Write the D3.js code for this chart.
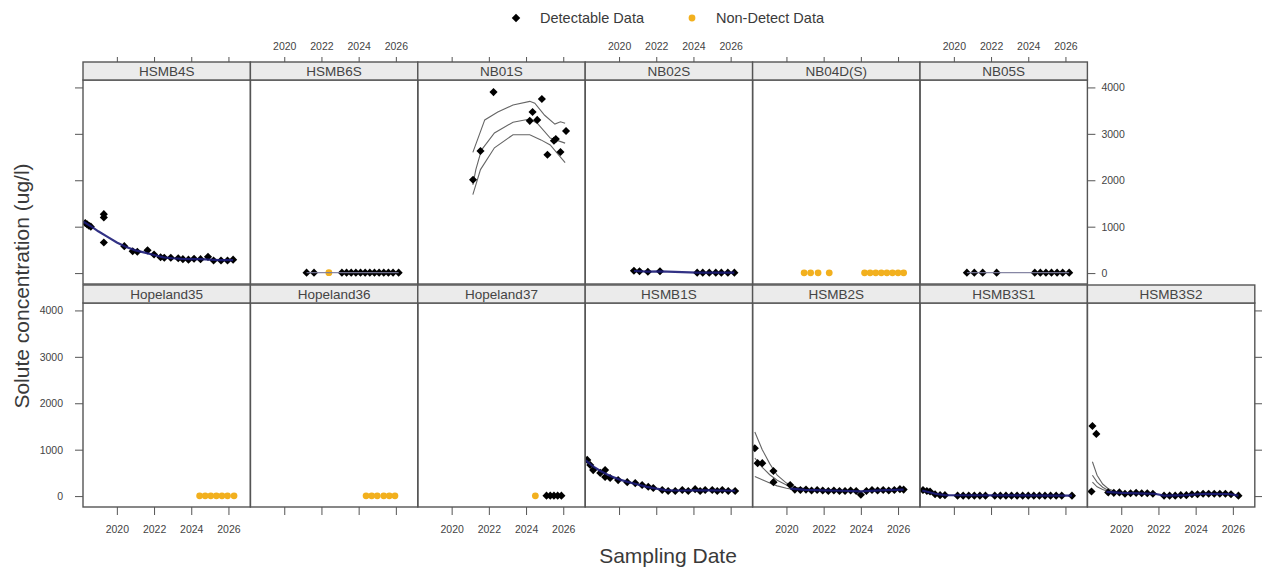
<!DOCTYPE html>
<html><head><meta charset="utf-8">
<script src="https://cdn.jsdelivr.net/npm/d3@7/dist/d3.min.js"></script>
<style>body{margin:0;background:#fff} svg{display:block} text{font-family:"Liberation Sans",Arial,sans-serif}</style>
</head><body><svg id="c" width="1262" height="569"></svg>
<script>
// ---------- tick labels & categories ----------
const yearTicks = [2020, 2022, 2024, 2026];
const valueTicks = [0, 1000, 2000, 3000, 4000];
const topRow = ["HSMB4S", "HSMB6S", "NB01S", "NB02S", "NB04D(S)", "NB05S"];
const bottomRow = ["Hopeland35", "Hopeland36", "Hopeland37", "HSMB1S", "HSMB2S", "HSMB3S1", "HSMB3S2"];
const legendLabels = ["Detectable Data", "Non-Detect Data"];

// ---------- series values [decimal year, ug/l] ----------
const hsmb4sDetect = [[2018.3,1080],[2018.4,1050],[2018.5,1020],[2018.6,1000],[2019.3,1270],[2019.3,1200],[2019.3,660],[2020.4,580],[2020.85,470],[2021.1,460],[2021.65,490],[2022.0,400],[2022.35,340],[2022.55,330],[2022.9,330],[2023.3,320],[2023.55,300],[2023.85,290],[2024.15,310],[2024.5,300],[2024.9,350],[2025.2,270],[2025.6,270],[2025.95,270],[2026.25,290]];
const hsmb4sTrend = [[2018.2,1110],[2018.6,1010],[2019.0,900],[2019.5,780],[2020.0,660],[2020.5,560],[2021.0,490],[2021.5,440],[2022.0,390],[2022.5,340],[2023.0,320],[2023.5,305],[2024.0,300],[2024.5,300],[2025.0,290],[2025.5,280],[2026.25,280]];

const hsmb6sDetect = [[2021.2,10],[2021.6,10],[2023.1,10],[2023.35,10],[2023.6,10],[2023.85,10],[2024.1,10],[2024.35,10],[2024.6,10],[2024.85,10],[2025.1,10],[2025.35,10],[2025.6,10],[2025.85,10],[2026.15,10]];
const hsmb6sNonDetect = [[2022.4,10]];
const hsmb6sTrend = [[2021.2,10],[2026.15,10]];

const nb01sDetect = [[2021.15,2010],[2021.55,2630],[2022.25,3900],[2024.2,3280],[2024.35,3470],[2024.6,3300],[2024.85,3750],[2025.15,2550],[2025.5,2850],[2025.6,2890],[2025.85,2610],[2026.15,3060]];
const nb01sUpper = [[2021.14,2600],[2021.78,3300],[2022.48,3470],[2023.3,3620],[2024.2,3700],[2024.47,3660],[2025.0,3400],[2025.55,3210],[2025.85,3260],[2026.1,3230]];
const nb01sMiddle = [[2021.14,1900],[2021.3,2230],[2021.6,2650],[2022.3,3020],[2023.3,3250],[2024.2,3320],[2024.6,3230],[2025.3,2910],[2026.1,2800]];
const nb01sLower = [[2021.14,1690],[2021.55,2230],[2022.3,2700],[2023.3,2980],[2024.2,2980],[2024.8,2870],[2025.3,2760],[2026.1,2380]];

const nb02sDetect = [[2020.8,50],[2021.1,40],[2021.55,30],[2022.2,40],[2024.2,10],[2024.5,10],[2024.85,10],[2025.2,10],[2025.5,10],[2025.85,10],[2026.2,10]];
const nb02sTrend = [[2020.8,45],[2021.55,30],[2022.2,35],[2024.2,10],[2026.2,10]];

const nb04dsNonDetect = [[2020.95,5],[2021.3,5],[2021.7,5],[2022.3,5],[2024.2,5],[2024.5,5],[2024.8,5],[2025.1,5],[2025.4,5],[2025.7,5],[2026.0,5],[2026.3,5]];

const nb05sDetect = [[2020.7,10],[2021.1,10],[2021.55,10],[2022.3,10],[2024.35,10],[2024.65,10],[2024.95,10],[2025.25,10],[2025.55,10],[2025.85,10],[2026.2,10]];
const nb05sTrend = [[2020.7,10],[2026.2,10]];

const hopeland35NonDetect = [[2024.45,5],[2024.75,5],[2025.05,5],[2025.35,5],[2025.65,5],[2025.95,5],[2026.3,5]];
const hopeland36NonDetect = [[2024.4,5],[2024.7,5],[2025.0,5],[2025.35,5],[2025.65,5],[2025.95,5]];
const hopeland37NonDetect = [[2024.5,5]];
const hopeland37Detect = [[2025.1,10],[2025.3,10],[2025.5,10],[2025.7,10],[2025.9,10]];

const hsmb1sDetect = [[2018.29,780],[2018.45,670],[2018.61,560],[2018.99,500],[2019.25,560],[2019.25,410],[2019.52,390],[2019.95,345],[2020.44,300],[2020.87,280],[2021.24,240],[2021.57,200],[2021.84,175],[2022.32,130],[2022.64,110],[2023.02,110],[2023.4,130],[2023.72,110],[2024.09,150],[2024.36,110],[2024.63,130],[2025.01,130],[2025.28,110],[2025.55,130],[2025.87,110],[2026.24,110]];
const hsmb1sTrend = [[2018.2,770],[2018.6,640],[2019.0,540],[2019.5,440],[2020.0,360],[2020.5,300],[2021.0,250],[2021.5,200],[2022.0,160],[2022.5,130],[2023.0,120],[2023.5,120],[2024.0,125],[2024.5,125],[2025.0,125],[2025.5,120],[2026.25,115]];

const hsmb2sDetect = [[2018.3,1030],[2018.45,710],[2018.7,710],[2019.3,540],[2019.3,300],[2020.2,240],[2020.45,140],[2020.75,130],[2021.05,140],[2021.35,120],[2021.65,130],[2021.95,120],[2022.25,110],[2022.55,120],[2022.85,110],[2023.15,110],[2023.45,120],[2023.75,110],[2024.0,30],[2024.3,110],[2024.6,130],[2024.9,120],[2025.2,130],[2025.5,120],[2025.8,130],[2026.1,150],[2026.3,140]];
const hsmb2sTrend = [[2020.2,160],[2021.0,135],[2022.0,125],[2023.0,115],[2024.0,100],[2025.0,125],[2026.3,140]];
const hsmb2sUpper = [[2018.3,1380],[2018.7,1000],[2019.1,700],[2019.5,450],[2020.0,280],[2020.5,190],[2021.0,160]];
const hsmb2sMiddle = [[2018.3,820],[2018.7,620],[2019.1,460],[2019.5,340],[2020.0,240],[2020.5,170],[2021.0,145]];
const hsmb2sLower = [[2018.3,420],[2018.7,350],[2019.1,280],[2019.5,220],[2020.0,170],[2020.5,130],[2021.0,125]];

const hsmb3s1Detect = [[2018.34,130],[2018.55,110],[2018.72,100],[2018.99,40],[2019.26,20],[2019.52,20],[2020.2,10],[2020.5,10],[2020.8,10],[2021.1,10],[2021.4,10],[2021.7,10],[2022.2,10],[2022.5,10],[2022.8,10],[2023.1,10],[2023.4,10],[2023.7,10],[2024.0,10],[2024.3,10],[2024.6,10],[2024.9,10],[2025.2,10],[2025.5,10],[2025.8,10],[2026.35,10]];
const hsmb3s1Trend = [[2018.3,120],[2019.0,50],[2019.5,20],[2026.35,10]];

const hsmb3s2Detect = [[2018.4,100],[2018.45,1510],[2018.66,1340],[2019.3,80],[2019.6,70],[2019.9,80],[2020.2,50],[2020.5,60],[2020.8,70],[2021.1,60],[2021.4,60],[2021.7,50],[2022.3,10],[2022.6,10],[2022.9,10],[2023.2,20],[2023.5,20],[2023.8,40],[2024.1,40],[2024.4,50],[2024.7,50],[2025.0,50],[2025.3,50],[2025.6,50],[2025.9,40],[2026.3,10]];
const hsmb3s2Trend = [[2019.2,90],[2020.0,70],[2021.0,60],[2021.8,50],[2022.3,10],[2023.5,20],[2024.5,50],[2025.8,45],[2026.3,10]];
const hsmb3s2Upper = [[2018.45,740],[2018.7,450],[2019.0,260],[2019.3,160],[2019.6,110]];
const hsmb3s2Middle = [[2018.45,450],[2018.7,300],[2019.0,190],[2019.3,120],[2019.6,90]];
const hsmb3s2Lower = [[2018.45,300],[2018.7,200],[2019.0,140],[2019.3,100],[2019.6,80]];

// ---------- assemble ----------
const stations = {
  "HSMB4S":   {det: hsmb4sDetect, nd: [], trend: hsmb4sTrend, bands: []},
  "HSMB6S":   {det: hsmb6sDetect, nd: hsmb6sNonDetect, trend: hsmb6sTrend, bands: [], thin: true},
  "NB01S":    {det: nb01sDetect, nd: [], trend: null, bands: [nb01sUpper, nb01sMiddle, nb01sLower]},
  "NB02S":    {det: nb02sDetect, nd: [], trend: nb02sTrend, bands: []},
  "NB04D(S)": {det: [], nd: nb04dsNonDetect, trend: null, bands: []},
  "NB05S":    {det: nb05sDetect, nd: [], trend: nb05sTrend, bands: [], thin: true},
  "Hopeland35": {det: [], nd: hopeland35NonDetect, trend: null, bands: []},
  "Hopeland36": {det: [], nd: hopeland36NonDetect, trend: null, bands: []},
  "Hopeland37": {det: hopeland37Detect, nd: hopeland37NonDetect, trend: null, bands: []},
  "HSMB1S":   {det: hsmb1sDetect, nd: [], trend: hsmb1sTrend, bands: []},
  "HSMB2S":   {det: hsmb2sDetect, nd: [], trend: hsmb2sTrend, bands: [hsmb2sUpper, hsmb2sMiddle, hsmb2sLower]},
  "HSMB3S1":  {det: hsmb3s1Detect, nd: [], trend: hsmb3s1Trend, bands: []},
  "HSMB3S2":  {det: hsmb3s2Detect, nd: [], trend: hsmb3s2Trend, bands: [hsmb3s2Upper, hsmb3s2Middle, hsmb3s2Lower]}
};

// ---------- layout ----------
const svg = d3.select("#c");
const left = 83, pw = 167.4, ph = 204, sh = 18;
const rows = [{strip: 62, top: 80, names: topRow}, {strip: 285, top: 303, names: bottomRow}];
const frame = "#555", txt = "#3a3a3a", navy = "#1c1c78", orange = "#f2b01e";

const x = d3.scaleLinear().domain([2018.18, 2027.18]).range([0, pw]);
const y = d3.scaleLinear().domain([-235, 4160]).range([ph, 0]);
const line = d3.line().x(d => x(d[0])).y(d => y(d[1]));
const diamond = d3.symbol().type(d3.symbolSquare).size(33);

function styleAxis(g) {
  g.select(".domain").remove();
  g.selectAll(".tick line").attr("stroke", frame).attr("stroke-width", 1);
  g.selectAll(".tick text").attr("fill", "#444").attr("font-size", 10.5).attr("font-family", '"Liberation Sans",Arial,sans-serif');
}

rows.forEach((row, ri) => {
  row.names.forEach((name, ci) => {
    const px = left + ci * pw;
    const g = svg.append("g").attr("transform", `translate(${px},${row.top})`);
    const s = stations[name];
    const clipId = "clip" + ri + "_" + ci;
    g.append("clipPath").attr("id", clipId).append("rect").attr("width", pw).attr("height", ph);
    const pg = g.append("g").attr("clip-path", `url(#${clipId})`);
    // bands
    s.bands.forEach(b => pg.append("path").datum(b).attr("d", line).attr("fill", "none").attr("stroke", "#666").attr("stroke-width", 1.1));
    // points
    pg.selectAll(".nd").data(s.nd).join("circle").attr("cx", d => x(d[0])).attr("cy", d => y(d[1])).attr("r", 3.4).attr("fill", orange);
    pg.selectAll(".det").data(s.det).join("path").attr("d", diamond)
      .attr("transform", d => `translate(${x(d[0])},${y(d[1])}) rotate(45)`).attr("fill", "#000");
    // trend
    if (s.trend) pg.append("path").datum(s.trend).attr("d", line).attr("fill", "none")
      .attr("stroke", s.thin ? "#7a7a9a" : navy).attr("stroke-width", s.thin ? 1.2 : 2.2).attr("stroke-opacity", 0.9);
    // panel frame
    g.append("rect").attr("width", pw).attr("height", ph).attr("fill", "none").attr("stroke", frame).attr("stroke-width", 1.4);
    // strip
    const st = svg.append("g").attr("transform", `translate(${px},${row.strip})`);
    st.append("rect").attr("width", pw).attr("height", sh).attr("fill", "#ebebeb").attr("stroke", frame).attr("stroke-width", 1.4);
    st.append("text").attr("x", pw / 2).attr("y", 14).attr("text-anchor", "middle").attr("font-size", 13.5).attr("fill", "#444").text(name);

    // axes
    if (ri === 0) {
      const ax = d3.axisTop(x).tickValues(yearTicks).tickSize(5).tickPadding(7)
        .tickFormat(ci % 2 === 1 ? d3.format("d") : "");
      svg.append("g").attr("transform", `translate(${px},${row.strip})`).call(ax).call(styleAxis);
    } else {
      const ax = d3.axisBottom(x).tickValues(yearTicks).tickSize(8).tickPadding(11)
        .tickFormat(ci % 2 === 0 ? d3.format("d") : "");
      svg.append("g").attr("transform", `translate(${px},${row.top + ph})`).call(ax).call(styleAxis);
    }
    if (ci === 0) {
      const ay = d3.axisLeft(y).tickValues(valueTicks).tickSize(8).tickPadding(12)
        .tickFormat(ri === 1 ? d3.format("d") : "");
      svg.append("g").attr("transform", `translate(${px},${row.top})`).call(ay).call(styleAxis);
    }
    if (ci === row.names.length - 1) {
      const ay = d3.axisRight(y).tickValues(valueTicks).tickSize(8).tickPadding(6)
        .tickFormat(ri === 0 ? d3.format("d") : "");
      svg.append("g").attr("transform", `translate(${px + pw},${row.top})`).call(ay).call(styleAxis);
    }
  });
});

// ---------- legend ----------
const lg = svg.append("g");
lg.append("path").attr("d", d3.symbol().type(d3.symbolSquare).size(36)).attr("transform", "translate(516,18) rotate(45)").attr("fill", "#000");
lg.append("text").attr("x", 540).attr("y", 23).attr("font-size", 14.5).attr("fill", txt).text(legendLabels[0]);
lg.append("circle").attr("cx", 692).attr("cy", 18).attr("r", 3.4).attr("fill", orange);
lg.append("text").attr("x", 716).attr("y", 23).attr("font-size", 14.5).attr("fill", txt).text(legendLabels[1]);

// ---------- axis titles ----------
svg.append("text").attr("transform", "translate(29,286) rotate(-90)").attr("text-anchor", "middle")
  .attr("font-size", 21).attr("fill", txt).text("Solute concentration (ug/l)");
svg.append("text").attr("x", 668).attr("y", 563).attr("text-anchor", "middle")
  .attr("font-size", 21).attr("fill", txt).text("Sampling Date");
</script></body></html>
